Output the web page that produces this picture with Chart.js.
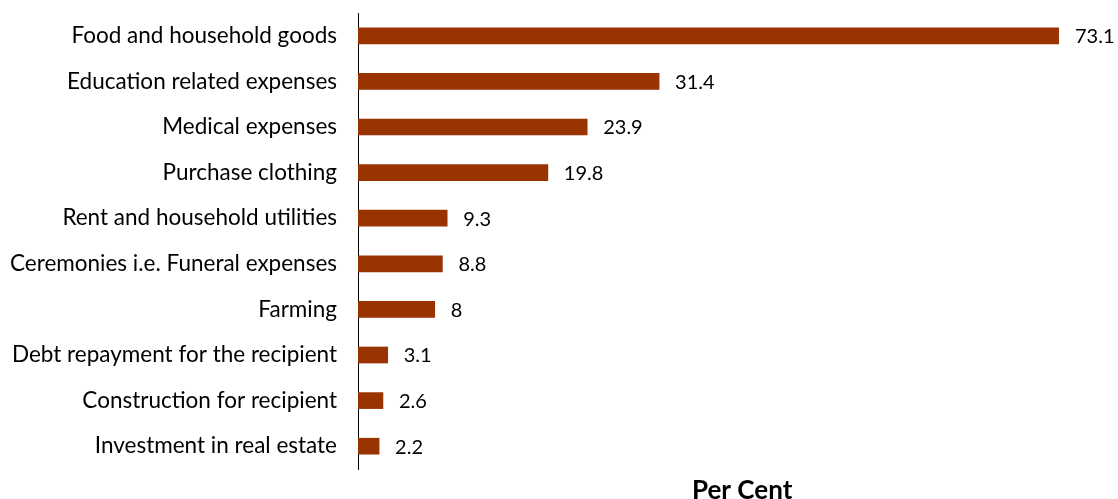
<!DOCTYPE html>
<html>
<head>
<meta charset="utf-8">
<script src="https://cdn.jsdelivr.net/npm/chart.js@4"></script>
<style>
  html, body { margin: 0; padding: 0; background: #fff; }
  #wrap { position: relative; width: 1118px; height: 499px; }
</style>
</head>
<body>
<div id="wrap"><canvas id="usesChart"></canvas></div>
<script>
const categories = [
  "Food and household goods",
  "Education related expenses",
  "Medical expenses",
  "Purchase clothing",
  "Rent and household utilities",
  "Ceremonies i.e. Funeral expenses",
  "Farming",
  "Debt repayment for the recipient",
  "Construction for recipient",
  "Investment in real estate"
];
const perCent = [73.1, 31.4, 23.9, 19.8, 9.3, 8.8, 8, 3.1, 2.6, 2.2];
const axisTitle = "Per Cent";

const FONT = "Lato, 'Open Sans', sans-serif";

// value labels just past the end of each bar
const valueLabels = {
  id: "valueLabels",
  afterDatasetsDraw(chart) {
    const ctx = chart.ctx;
    const meta = chart.getDatasetMeta(0);
    ctx.save();
    ctx.font = "20px " + FONT;
    ctx.fillStyle = "#000";
    ctx.textAlign = "left";
    ctx.textBaseline = "middle";
    meta.data.forEach((bar, i) => {
      ctx.fillText(String(perCent[i]), bar.x + 16, bar.y + 1);
    });
    ctx.restore();
  }
};

// bold axis caption under the plot
const bottomTitle = {
  id: "bottomTitle",
  afterDraw(chart) {
    const ctx = chart.ctx;
    const area = chart.chartArea;
    ctx.save();
    ctx.font = "bold 26px " + FONT;
    ctx.fillStyle = "#000";
    ctx.textAlign = "center";
    ctx.textBaseline = "middle";
    ctx.fillText(axisTitle, area.left + (area.right - area.left) * 0.548, area.bottom + 22);
    ctx.restore();
  }
};

new Chart(document.getElementById("usesChart"), {
  type: "bar",
  data: {
    labels: categories,
    datasets: [{
      data: perCent,
      backgroundColor: "#993300",
      barThickness: 16
    }]
  },
  options: {
    indexAxis: "y",
    responsive: true,
    maintainAspectRatio: false,
    animation: false,
    layout: { padding: { top: 13, right: 59, bottom: 30, left: 0 } },
    plugins: {
      legend: { display: false },
      tooltip: { enabled: false }
    },
    scales: {
      x: {
        display: false,
        min: 0,
        max: 73.1
      },
      y: {
        grid: { display: false },
        border: { display: true, color: "#000", width: 1 },
        ticks: {
          color: "#000",
          padding: 13,
          font: { family: FONT, size: 22.5 }
        },
        afterFit(scale) {
          // keep the category band flush with the layout padding
          scale.paddingTop = 0;
          scale.paddingBottom = 0;
          scale.width = 358;
        }
      }
    }
  },
  plugins: [valueLabels, bottomTitle]
});
</script>
</body>
</html>
